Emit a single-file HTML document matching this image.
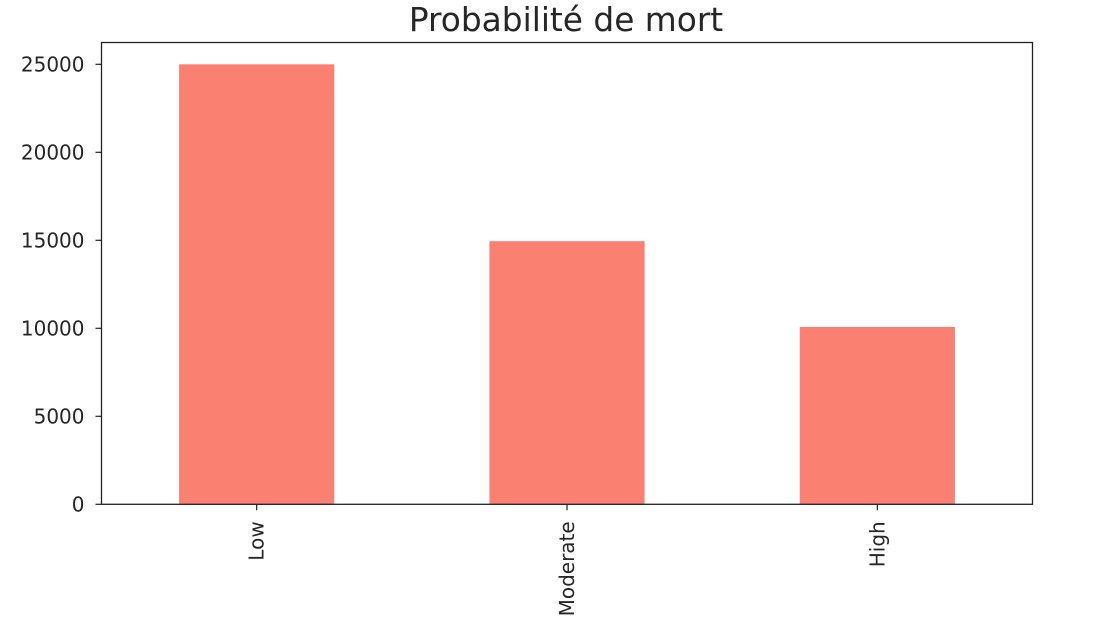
<!DOCTYPE html>
<html><head><meta charset="utf-8"><style>
html,body{margin:0;padding:0;background:#fff;width:1103px;height:638px;overflow:hidden}
text{font-family:"DejaVu Sans","Liberation Sans",sans-serif;fill:#262626}
</style></head><body>
<svg id="chart" width="1103" height="638" xmlns="http://www.w3.org/2000/svg">
<text x="566" y="31" text-anchor="middle" font-size="32.8">Probabilité de mort</text>
<g id="marks"></g>
<rect x="101.5" y="42.5" width="931" height="461.8" fill="none" stroke="#222" stroke-width="1.3"/>
</svg>
<script>
const categories = ["Low", "Moderate", "High"];
const values = [25000, 14950, 10075];
const yTicks = [0, 5000, 10000, 15000, 20000, 25000];

const L = 101.5, R = 1032.5, B = 504.3;
const pxPerUnit = 440 / 25000;
const y = v => B - v * pxPerUnit;
const step = (R - L) / categories.length;
const x = i => L + step * (i + 0.5);
const bw = step * 0.5;
const NS = "http://www.w3.org/2000/svg";
const g = document.getElementById('marks');
function mk(tag, attrs) { const e = document.createElementNS(NS, tag); for (const k in attrs) e.setAttribute(k, attrs[k]); g.appendChild(e); return e; }

categories.forEach((c, i) => {
  const r = mk('rect', {x: x(i) - bw / 2, y: y(values[i]), width: bw, height: B - y(values[i]), fill: '#fa8072'});
  
  
  const t = mk('line', {x1: x(i), x2: x(i), y1: B, y2: B + 6, stroke: '#222', 'stroke-width': 1.2});
  
  
  const lb = mk('text', {x: 0, y: 0, 'font-size': 20, 'text-anchor': 'end', transform: `translate(${x(i) + 7},${B + 17}) rotate(-90)`});
  lb.textContent = c;
  
  
});
yTicks.forEach(v => {
  const t = mk('line', {x1: L - 6, x2: L, y1: y(v), y2: y(v), stroke: '#222', 'stroke-width': 1.2});
  
  
  const lb = mk('text', {x: L - 17, y: y(v) + 7, 'font-size': 20, 'text-anchor': 'end'});
  lb.textContent = v;
  
  
});
</script>
</body></html>
